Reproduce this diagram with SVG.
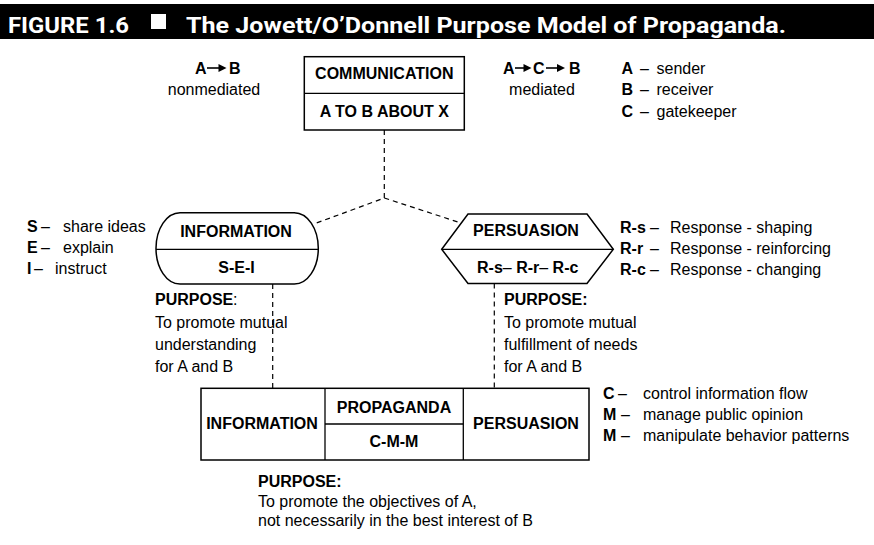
<svg xmlns="http://www.w3.org/2000/svg" width="874" height="545" viewBox="0 0 874 545">
<style>
text{font-family:"Liberation Sans",Arial,sans-serif;font-size:16px;fill:#000}
.b{font-weight:bold}
.c{text-anchor:middle}
.shape{fill:#fff;stroke:#000;stroke-width:1.5}
.div{stroke:#000;stroke-width:1.3;fill:none}
.dash{stroke:#000;stroke-width:1.2;stroke-dasharray:5 4;fill:none}
.title{font-family:Roboto,"DejaVu Sans",sans-serif;font-weight:bold;font-size:22px;fill:#fff}
.arr{stroke:#000;stroke-width:1.6}
</style>
<rect width="874" height="545" fill="#fff"/>
<g id="title">
<rect x="0" y="4" width="874" height="35" fill="#000"/>
<text class="title" x="8" y="33" textLength="121" lengthAdjust="spacingAndGlyphs">FIGURE 1.6</text>
<rect x="151" y="14" width="15" height="15" fill="#fff"/>
<text class="title" x="186" y="33" textLength="600" lengthAdjust="spacingAndGlyphs">The Jowett/O’Donnell Purpose Model of Propaganda.</text>
</g>
<g id="connectors">
<path class="dash" d="M384.3 130V198L313 224.3M384.3 198L461 223"/>
<path class="dash" d="M272.7 284V388.3"/>
<path class="dash" d="M494.3 283.5V388.3"/>
</g>
<g id="communication">
<rect class="shape" x="304.3" y="56.7" width="160" height="73.3"/>
<line class="div" x1="304.3" y1="93.3" x2="464.3" y2="93.3"/>
<text class="b c" x="384.3" y="79">COMMUNICATION</text>
<text class="b c" x="384.3" y="116.7">A TO B ABOUT X</text>
</g>
<g id="nonmediated">
<text class="b" x="195" y="73.5">A</text>
<line class="arr" x1="207" y1="68" x2="220" y2="68"/>
<polygon points="218.5,64 226.5,68 218.5,72"/>
<text class="b" x="229" y="73.5">B</text>
<text class="c" x="214" y="95">nonmediated</text>
</g>
<g id="mediated">
<text class="b" x="503" y="73.5">A</text>
<line class="arr" x1="515" y1="68" x2="525" y2="68"/>
<polygon points="523.5,64 531.5,68 523.5,72"/>
<text class="b" x="533" y="73.5">C</text>
<line class="arr" x1="546" y1="68" x2="558" y2="68"/>
<polygon points="557,64 565,68 557,72"/>
<text class="b" x="569" y="73.5">B</text>
<text class="c" x="542" y="95">mediated</text>
</g>
<g id="legend-abc">
<text y="74"><tspan class="b" x="621.5">A</tspan><tspan x="640">–</tspan><tspan x="656.5">sender</tspan></text>
<text y="95"><tspan class="b" x="621.5">B</tspan><tspan x="640">–</tspan><tspan x="656.5">receiver</tspan></text>
<text y="116.5"><tspan class="b" x="621.5">C</tspan><tspan x="640">–</tspan><tspan x="656.5">gatekeeper</tspan></text>
</g>
<g id="information">
<rect class="shape" x="156" y="212.7" width="162.3" height="71.3" rx="24" ry="35.6"/>
<line class="div" x1="156" y1="249.3" x2="318.3" y2="249.3"/>
<text class="b c" x="236" y="237">INFORMATION</text>
<text class="b c" x="236.5" y="272.7">S-E-I</text>
</g>
<g id="legend-sei">
<text y="232"><tspan class="b" x="27">S</tspan><tspan x="41">–</tspan><tspan x="63">share ideas</tspan></text>
<text y="253"><tspan class="b" x="27">E</tspan><tspan x="41">–</tspan><tspan x="63">explain</tspan></text>
<text y="274"><tspan class="b" x="27">I</tspan><tspan x="34">–</tspan><tspan x="55">instruct</tspan></text>
</g>
<g id="persuasion">
<polygon class="shape" points="468,214 587,214 613.3,249.3 587,283.5 468,283.5 441.7,249.3"/>
<line class="div" x1="441.7" y1="249.3" x2="613.3" y2="249.3"/>
<text class="b c" x="526" y="236">PERSUASION</text>
<text class="b" x="477" y="272.5">R-s<tspan font-weight="normal">–</tspan> R-r<tspan font-weight="normal">–</tspan> R-c</text>
</g>
<g id="legend-r">
<text y="232.5"><tspan class="b" x="620">R-s</tspan><tspan x="650">–</tspan><tspan x="670">Response - shaping</tspan></text>
<text y="254"><tspan class="b" x="620">R-r</tspan><tspan x="650">–</tspan><tspan x="670">Response - reinforcing</tspan></text>
<text y="274.5"><tspan class="b" x="620">R-c</tspan><tspan x="650">–</tspan><tspan x="670">Response - changing</tspan></text>
</g>
<g id="purpose-information">
<text x="155" y="305"><tspan class="b">PURPOSE</tspan><tspan x="233">:</tspan></text>
<text x="155" y="328">To promote mutual</text>
<text x="155" y="350">understanding</text>
<text x="155" y="372">for A and B</text>
</g>
<g id="purpose-persuasion">
<text class="b" x="504" y="305">PURPOSE:</text>
<text x="504" y="328">To promote mutual</text>
<text x="504" y="350">fulfillment of needs</text>
<text x="504" y="372">for A and B</text>
</g>
<g id="propaganda">
<rect class="shape" x="201" y="388.3" width="388" height="71.7"/>
<line class="div" x1="325" y1="388.3" x2="325" y2="460"/>
<line class="div" x1="463.3" y1="388.3" x2="463.3" y2="460"/>
<line class="div" x1="325" y1="424" x2="463.3" y2="424"/>
<text class="b c" x="262" y="428.5">INFORMATION</text>
<text class="b c" x="394" y="413.3">PROPAGANDA</text>
<text class="b c" x="394" y="446.7">C-M-M</text>
<text class="b c" x="526" y="428.5">PERSUASION</text>
</g>
<g id="legend-cmm">
<text y="399"><tspan class="b" x="603">C</tspan><tspan x="618">–</tspan><tspan x="643">control information flow</tspan></text>
<text y="420"><tspan class="b" x="603">M</tspan><tspan x="621">–</tspan><tspan x="643">manage public opinion</tspan></text>
<text y="441"><tspan class="b" x="603">M</tspan><tspan x="621">–</tspan><tspan x="643">manipulate behavior patterns</tspan></text>
</g>
<g id="purpose-propaganda">
<text class="b" x="258" y="487">PURPOSE:</text>
<text x="258" y="507">To promote the objectives of A,</text>
<text x="258" y="526">not necessarily in the best interest of B</text>
</g>
</svg>
